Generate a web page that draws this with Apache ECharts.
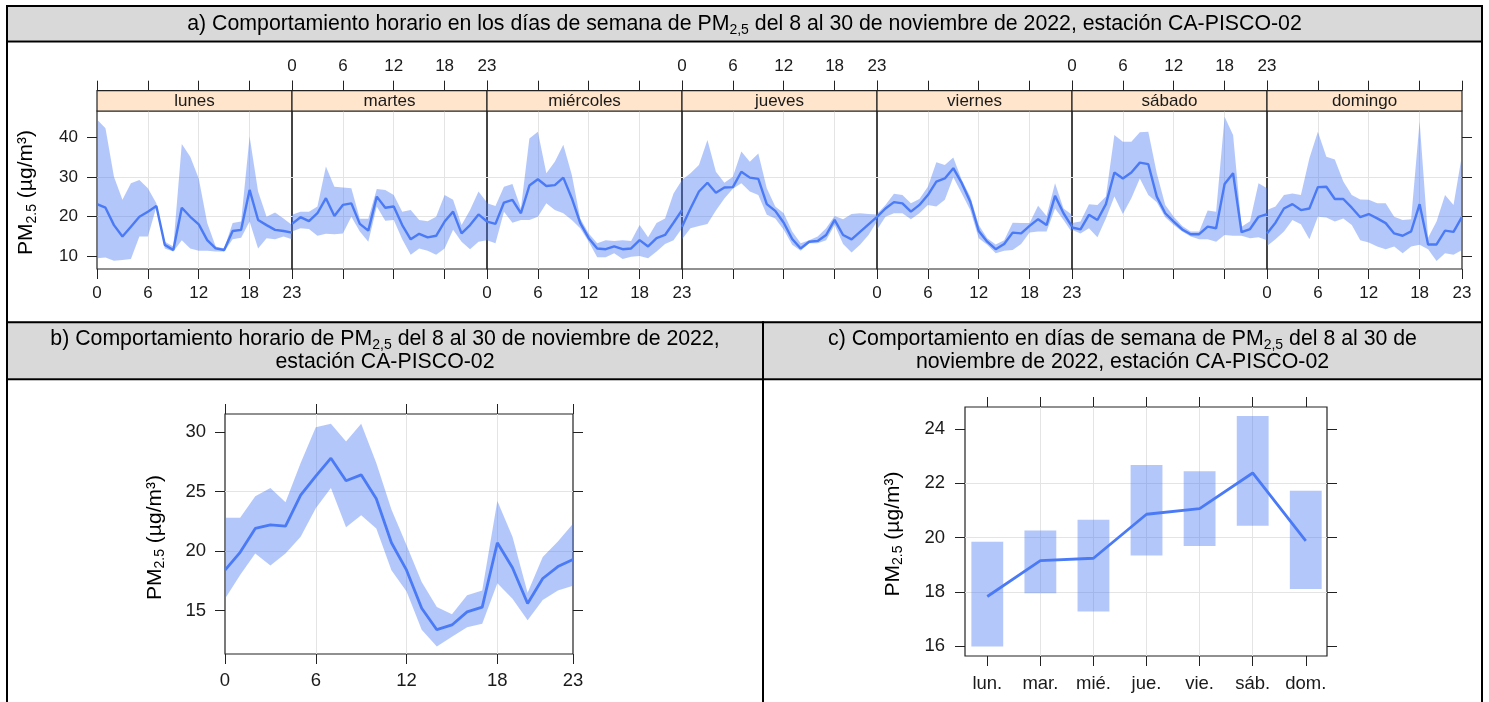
<!DOCTYPE html>
<html><head><meta charset="utf-8">
<script src="https://cdn.jsdelivr.net/npm/echarts@6/dist/echarts.min.js"></script>
<style>html,body{margin:0;padding:0;background:#fff}#c{width:1489px;height:702px}</style>
</head><body><div id="c"></div>
<script>
// ---------- data ----------
const hours = [0,1,2,3,4,5,6,7,8,9,10,11,12,13,14,15,16,17,18,19,20,21,22,23];
const hourTicks = [0, 6, 12, 18, 23];
const dayNames = ['lunes','martes','miércoles','jueves','viernes','sábado','domingo'];
const dayAbbr = ['lun.','mar.','mié.','jue.','vie.','sáb.','dom.'];
const dayIndex = [0,1,2,3,4,5,6];
const concTicksA = [10,20,30,40];
const concTicksB = [15,20,25,30];
const concTicksC = [16,18,20,22,24];

const lunesMean = [23.1,22.2,17.8,14.9,17.4,19.9,21.2,22.6,12.8,11.5,22.2,19.9,18.0,14.0,11.9,11.5,16.3,16.6,26.7,19.1,17.8,16.6,16.3,15.9];
const lunesHigh = [44.5,42.3,30.0,24.2,28.4,29.2,27.1,23.3,13.6,12.4,38.3,35.1,29.6,18.3,12.4,11.9,18.3,18.7,40.2,26.3,19.9,21.0,19.5,17.8];
const lunesLow  = [9.4,9.6,8.8,9.0,9.2,14.9,14.9,22.4,11.9,11.1,14.0,11.9,11.3,11.3,11.1,11.1,14.2,14.6,18.7,11.9,14.5,14.2,14.9,14.2];

const martesMean = [18.1,19.8,18.8,20.8,24.6,20.1,22.9,23.3,18.1,16.4,25.0,22.2,22.5,17.8,14.2,15.6,14.7,15.1,18.7,21.2,15.7,17.8,20.5,18.7];
const martesHigh = [20.4,21.2,21.2,22.5,32.6,27.5,27.3,27.1,19.4,19.4,26.9,26.7,25.4,21.2,21.6,19.1,18.8,19.9,25.4,24.2,17.8,21.6,26.3,23.5];
const martesLow  = [16.2,17.0,16.8,15.1,15.6,15.5,15.7,19.9,16.2,13.6,22.5,18.9,19.1,14.2,10.3,11.9,11.3,10.3,11.9,16.6,13.6,11.7,13.6,14.0];

const miercolesMean = [18.7,18.1,23.5,24.2,20.8,27.8,29.4,27.7,27.9,29.8,24.6,18.3,14.5,11.9,11.7,12.4,11.7,11.9,14.0,12.4,14.5,15.3,18.4,21.6];
const miercolesHigh = [23.3,22.6,27.5,28.2,22.0,39.7,41.4,30.9,33.8,38.1,30.5,19.5,15.7,13.2,14.0,13.8,14.0,13.8,17.8,14.7,18.3,19.5,25.8,29.2];
const miercolesLow  = [14.0,13.2,21.2,18.4,19.1,19.1,19.9,23.3,21.6,20.8,19.1,17.0,13.6,9.7,9.7,10.7,9.2,9.8,10.0,9.4,11.1,13.0,14.0,17.0];

const juevesMean = [17.4,22.0,26.3,28.5,26.0,27.3,27.4,31.3,29.8,29.5,23.1,21.4,18.4,14.3,11.9,13.6,13.8,15.3,19.1,15.3,14.2,16.1,18.0,19.9];
const juevesHigh = [29.2,30.9,33.0,39.3,31.3,28.5,30.0,36.4,33.8,35.9,27.1,22.5,20.8,16.2,13.2,14.0,14.9,17.0,20.1,19.3,20.6,20.8,20.6,20.5];
const juevesLow  = [14.2,17.0,17.6,18.1,21.5,24.5,27.0,28.4,26.3,25.4,20.4,19.5,16.6,12.8,11.3,13.2,13.2,14.0,17.8,13.0,10.9,12.8,15.3,18.7];

const viernesMean = [19.9,22.0,23.6,23.3,21.2,22.9,25.4,28.8,29.6,32.2,28.4,23.7,16.3,13.6,11.7,13.0,15.9,15.7,17.6,19.3,17.8,25.2,20.8,17.4];
const viernesHigh = [20.6,22.9,25.7,25.4,23.3,24.4,27.5,33.7,33.0,34.9,29.2,25.0,17.8,14.5,12.9,14.0,18.4,18.3,18.3,22.7,20.1,28.4,22.0,20.4];
const viernesLow  = [16.6,19.9,20.8,20.8,19.3,20.8,22.9,22.5,24.2,29.9,25.8,21.6,14.5,12.8,10.7,11.3,11.5,13.0,15.9,16.2,16.2,22.0,19.1,15.9];

const sabadoMean = [17.2,16.7,20.4,19.1,23.1,31.1,29.6,31.1,33.6,33.2,25.0,20.8,18.7,16.7,15.5,15.5,17.4,17.0,28.2,30.9,16.0,16.8,19.9,20.6];
const sabadoHigh = [18.3,18.7,23.1,22.9,25.0,40.6,38.9,38.9,41.3,41.4,30.9,22.9,19.9,17.6,16.2,16.2,21.5,21.2,45.2,40.6,17.4,18.8,28.4,27.1];
const sabadoLow  = [16.6,15.7,17.0,14.7,19.5,25.0,20.6,24.6,29.6,25.4,23.6,19.8,17.8,16.2,14.9,14.2,14.2,13.6,15.3,15.1,15.1,14.5,14.7,14.0];

const domingoMean = [15.7,18.4,22.0,23.1,21.6,22.0,27.4,27.5,24.4,24.4,22.2,19.8,20.6,19.5,18.3,15.7,15.1,16.2,23.1,12.9,12.9,16.4,16.1,19.9];
const domingoHigh = [21.6,22.5,25.4,25.8,25.4,34.7,41.4,35.1,34.4,28.8,25.4,24.3,24.2,23.3,23.3,19.9,19.1,19.3,44.0,14.6,18.7,25.4,22.9,35.5];
const domingoLow  = [12.5,14.2,16.2,19.1,18.0,14.2,19.9,19.7,18.7,19.5,17.8,14.0,13.4,12.4,11.7,12.4,10.7,12.4,12.8,11.7,8.7,10.7,10.3,11.5];

const hourMean = [18.4,19.9,21.9,22.2,22.1,24.7,26.3,27.8,25.9,26.4,24.4,20.7,18.4,15.2,13.4,13.8,14.9,15.3,20.7,18.6,15.6,17.7,18.7,19.3];
const hourHigh = [22.8,22.8,24.6,25.3,24.1,27.4,30.4,30.7,29.2,30.7,27.4,23.5,20.5,17.4,15.3,14.7,16.3,16.7,24.2,21.2,16.5,19.5,20.8,22.3];
const hourLow  = [16.0,18.0,19.8,18.8,19.8,21.2,23.6,25.3,22.0,23.0,21.9,18.4,16.6,13.4,12.0,12.8,13.6,13.9,17.3,16.0,14.2,15.9,16.7,17.1];

const weekdayMean = [17.83,19.15,19.24,20.86,21.07,22.38,19.88];
const weekdayHigh = [19.85,20.26,20.66,22.67,22.44,24.48,21.73];
const weekdayLow  = [15.99,17.95,17.28,19.34,19.69,20.44,18.11];

const dayMeans = [lunesMean, martesMean, miercolesMean, juevesMean, viernesMean, sabadoMean, domingoMean];
const dayHighs = [lunesHigh, martesHigh, miercolesHigh, juevesHigh, viernesHigh, sabadoHigh, domingoHigh];
const dayLows  = [lunesLow, martesLow, miercolesLow, juevesLow, viernesLow, sabadoLow, domingoLow];

// ---------- styles ----------
const FF = '"Liberation Sans", Arial, Helvetica, sans-serif';
const LINE = '#4a7af5';
const BAND = 'rgba(74,122,245,0.42)';
const AXIS = '#222';
const GRIDC = '#e4e4e4';
const TXT = '#1a1a1a';

const grids = [], xAxes = [], yAxes = [], series = [], graphics = [];

function gridBox(left, top, width, height) {
  return {left, top, width, height, show: true, borderColor: AXIS, borderWidth: 1.2,
    backgroundColor: 'rgba(0,0,0,0)', containLabel: false, outerBoundsMode: 'none'};
}
function xAxisDef(gi, pos, opt) {
  return {
    gridIndex: gi, type: 'value', min: opt.min, max: opt.max, position: pos, offset: opt.offset || 0,
    axisLine: {show: false, onZero: false},
    axisTick: {show: true, inside: false, length: 10, customValues: opt.ticks, lineStyle: {color: AXIS, width: 1}},
    axisLabel: {show: !!opt.labels, customValues: opt.ticks, margin: opt.margin, fontSize: opt.fs, fontFamily: FF, color: TXT,
      formatter: opt.formatter, hideOverlap: false, showMinLabel: true, showMaxLabel: true},
    splitLine: {show: !!opt.split, showMinLine: false, showMaxLine: false, lineStyle: {color: GRIDC, width: 1}}
  };
}
function yAxisDef(gi, pos, opt) {
  return {
    gridIndex: gi, type: 'value', min: opt.min, max: opt.max, position: pos, offset: 0,
    axisLine: {show: false, onZero: false},
    axisTick: {show: !!opt.tickShow, inside: false, length: 10, customValues: opt.ticks, lineStyle: {color: AXIS, width: 1}},
    axisLabel: {show: !!opt.labels, customValues: opt.ticks, margin: opt.margin, fontSize: opt.fs, fontFamily: FF, color: TXT,
      hideOverlap: false},
    splitLine: {show: !!opt.split, showMinLine: false, showMaxLine: false, lineStyle: {color: GRIDC, width: 1}}
  };
}
function bandSeries(xi, yi, xs, low, high, mean, lw) {
  return [
    {type: 'custom', xAxisIndex: xi, yAxisIndex: yi, silent: true, z: 2, clip: true,
      data: xs.map((h, i) => [h, low[i], high[i]]),
      encode: {x: 0, y: [1, 2]},
      renderItem: (params, api) => {
        if (params.dataIndex !== 0) return null;
        const pts = [];
        xs.forEach((h, i) => pts.push(api.coord([h, high[i]])));
        for (let i = xs.length - 1; i >= 0; i--) pts.push(api.coord([xs[i], low[i]]));
        return {type: 'polygon', shape: {points: pts}, style: {fill: BAND}};
      }},
    {type: 'line', xAxisIndex: xi, yAxisIndex: yi, symbol: 'none', silent: true,
      lineStyle: {color: LINE, width: lw}, data: xs.map((h, i) => [h, mean[i]]), z: 3}
  ];
}
function richTitle(pre, sub, post, fs, sfs) {
  return {
    text: '{n|' + pre + '}{s|' + sub + '}{n|' + post + '}',
    rich: {
      n: {fontSize: fs, lineHeight: Math.round(fs * 1.2), fontFamily: FF, fill: '#000'},
      s: {fontSize: sfs, lineHeight: Math.round(sfs * 0.9), verticalAlign: 'bottom', fontFamily: FF, fill: '#000'}
    }
  };
}

// ---------- panel a ----------
const PA = {left: 97, top: 111, width: 195, height: 158, strip: 20.3, ymin: 6.7, ymax: 46.65};
dayIndex.forEach(d => {
  const gi = grids.length;
  grids.push(gridBox(PA.left + d * PA.width, PA.top, PA.width, PA.height));
  const xi = xAxes.length;
  xAxes.push(xAxisDef(gi, 'bottom', {min: 0, max: 23, ticks: hourTicks, labels: d % 2 === 0, split: true, margin: 16, fs: 17}));
  xAxes.push(xAxisDef(gi, 'top', {min: 0, max: 23, ticks: hourTicks, labels: d % 2 === 1, split: false, margin: 16, fs: 17, offset: PA.strip}));
  const yi = yAxes.length;
  yAxes.push(yAxisDef(gi, d === 6 ? 'right' : 'left', {min: PA.ymin, max: PA.ymax, ticks: concTicksA,
    tickShow: d === 0 || d === 6, labels: d === 0, split: true, margin: 19, fs: 17}));
  series.push(...bandSeries(xi, yi, hours, dayLows[d], dayHighs[d], dayMeans[d], 2.4));
  graphics.push({type: 'rect', z: 5, shape: {x: PA.left + d * PA.width, y: PA.top - PA.strip, width: PA.width, height: PA.strip},
    style: {fill: '#ffe5cc', stroke: AXIS, lineWidth: 1.2}});
  graphics.push({type: 'text', z: 6, x: PA.left + d * PA.width + PA.width / 2, y: PA.top - PA.strip / 2,
    style: {text: dayNames[d], fontSize: 17, fontFamily: FF, fill: TXT, align: 'center', verticalAlign: 'middle'}});
});

// ---------- panel b ----------
const PB = {left: 225, top: 414, width: 348, height: 240, ymin: 11.36, ymax: 31.51};
{
  const gi = grids.length;
  grids.push(gridBox(PB.left, PB.top, PB.width, PB.height));
  const xi = xAxes.length;
  xAxes.push(xAxisDef(gi, 'bottom', {min: 0, max: 23, ticks: hourTicks, labels: true, split: true, margin: 17, fs: 18.5}));
  xAxes.push(xAxisDef(gi, 'top', {min: 0, max: 23, ticks: hourTicks, labels: false, split: false, margin: 17, fs: 18.5}));
  const yi = yAxes.length;
  yAxes.push(yAxisDef(gi, 'left', {min: PB.ymin, max: PB.ymax, ticks: concTicksB, tickShow: true, labels: true, split: true, margin: 19, fs: 18.5}));
  yAxes.push(yAxisDef(gi, 'right', {min: PB.ymin, max: PB.ymax, ticks: concTicksB, tickShow: true, labels: false, split: false, margin: 19, fs: 18.5}));
  series.push(...bandSeries(xi, yi, hours, hourLow, hourHigh, hourMean, 2.8));
}

// ---------- panel c ----------
const PC = {left: 965, top: 407, width: 362, height: 249, xmin: -0.42, xmax: 6.4, ymin: 15.64, ymax: 24.81, half: 0.3};
{
  const gi = grids.length;
  grids.push(gridBox(PC.left, PC.top, PC.width, PC.height));
  const xi = xAxes.length;
  xAxes.push(xAxisDef(gi, 'bottom', {min: PC.xmin, max: PC.xmax, ticks: dayIndex, labels: true, split: true, margin: 18, fs: 18.5,
    formatter: v => dayAbbr[Math.round(v)]}));
  xAxes.push(xAxisDef(gi, 'top', {min: PC.xmin, max: PC.xmax, ticks: dayIndex, labels: false, split: false, margin: 18, fs: 18.5}));
  const yi = yAxes.length;
  yAxes.push(yAxisDef(gi, 'left', {min: PC.ymin, max: PC.ymax, ticks: concTicksC, tickShow: true, labels: true, split: true, margin: 20, fs: 18.5}));
  yAxes.push(yAxisDef(gi, 'right', {min: PC.ymin, max: PC.ymax, ticks: concTicksC, tickShow: true, labels: false, split: false, margin: 20, fs: 18.5}));
  series.push({
    type: 'custom', xAxisIndex: xi, yAxisIndex: yi, silent: true, z: 2,
    data: dayIndex.map(i => [i, weekdayLow[i], weekdayHigh[i]]),
    encode: {x: 0, y: [1, 2]},
    renderItem: (params, api) => {
      const x = api.value(0);
      const p1 = api.coord([x - PC.half, api.value(2)]);
      const p2 = api.coord([x + PC.half, api.value(1)]);
      return {type: 'rect', shape: {x: p1[0], y: p1[1], width: p2[0] - p1[0], height: p2[1] - p1[1]}, style: {fill: BAND}};
    }
  });
  series.push({type: 'line', xAxisIndex: xi, yAxisIndex: yi, symbol: 'none', silent: true, z: 3,
    lineStyle: {color: LINE, width: 2.8}, data: dayIndex.map(i => [i, weekdayMean[i]])});
}

// ---------- table frame & headers ----------
const T = {l: 6, r: 1483, top: 5, hA: 40.5, rowB: 321.3, hB: 378.3, mid: 762, bottom: 710, lw: 2};
const GRAY = '#d9d9d9';
graphics.push({type: 'rect', z: 0, shape: {x: T.l, y: T.top, width: T.r - T.l, height: T.hA - T.top}, style: {fill: GRAY}});
graphics.push({type: 'rect', z: 0, shape: {x: T.l, y: T.rowB, width: T.r - T.l, height: T.hB - T.rowB}, style: {fill: GRAY}});
[T.top, T.hA, T.rowB, T.hB].forEach(y => graphics.push({type: 'rect', z: 10,
  shape: {x: T.l, y: y, width: T.r - T.l, height: T.lw}, style: {fill: '#000'}}));
[T.l, T.r - T.lw].forEach(x => graphics.push({type: 'rect', z: 10,
  shape: {x: x, y: T.top, width: T.lw, height: T.bottom - T.top}, style: {fill: '#000'}}));
graphics.push({type: 'rect', z: 10, shape: {x: T.mid, y: T.rowB, width: T.lw, height: T.bottom - T.rowB}, style: {fill: '#000'}});

const HFS = 21.3, HSFS = 14;
function headerText(x, y, pre, sub, post) {
  const st = post === null ? {text: pre, fontSize: HFS, fontFamily: FF, fill: '#000'} : richTitle(pre, sub, post, HFS, HSFS);
  return {type: 'text', z: 11, x, y, style: Object.assign(st, {align: 'center', verticalAlign: 'middle'})};
}
graphics.push(headerText(744.5, 24, 'a) Comportamiento horario en los días de semana de PM', '2,5',
  ' del 8 al 30 de noviembre de 2022, estación CA-PISCO-02'));
graphics.push(headerText(385, 339, 'b) Comportamiento horario de PM', '2,5', ' del 8 al 30 de noviembre de 2022,'));
graphics.push(headerText(385, 362, 'estación CA-PISCO-02', '', null));
graphics.push(headerText(1122.5, 339, 'c) Comportamiento en días de semana de PM', '2,5', ' del 8 al 30 de'));
graphics.push(headerText(1122.5, 362, 'noviembre de 2022, estación CA-PISCO-02', '', null));

// y-axis titles
[[26.7, 192.5], [155, 537.5], [893, 534]].forEach(p => {
  graphics.push({type: 'text', z: 11, x: p[0], y: p[1], rotation: Math.PI / 2,
    style: Object.assign(richTitle('PM', '2.5', ' (µg/m³)', 21, 14), {align: 'center', verticalAlign: 'middle'})});
});

const chart = echarts.init(document.getElementById('c'), null, {renderer: 'canvas', width: 1489, height: 702});
chart.setOption({
  animation: false,
  backgroundColor: '#fff',
  grid: grids, xAxis: xAxes, yAxis: yAxes, series: series,
  graphic: {elements: graphics}
});
</script></body></html>
